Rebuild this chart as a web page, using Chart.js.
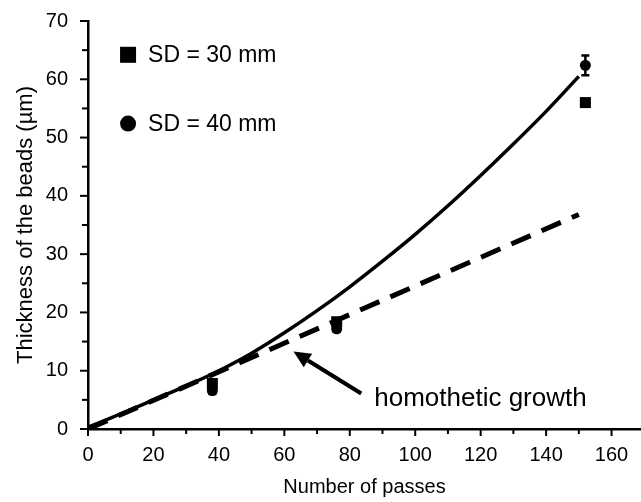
<!DOCTYPE html>
<html lang="en">
<head>
    <meta charset="UTF-8">
    <title>Thickness of the beads vs number of passes</title>
    <script src="https://cdn.jsdelivr.net/npm/chart.js"></script>
    <style>
        html, body { margin: 0; padding: 0; background: #fff; overflow: hidden; }
        canvas { display: block; }
    </style>
</head>
<body>
    <canvas id="beadsChart" width="641" height="502"></canvas>

    <script>
        // fitted growth curve (solid line)
        const fitPasses = [0, 10, 20, 30, 40, 50, 60, 70, 80, 90, 100, 110, 120, 130, 140, 150];
        const fitThickness = [0.3, 2.6, 5.0, 7.4, 10.0, 13.0, 16.5, 20.3, 24.4, 28.8, 33.4, 38.3, 43.5, 48.9, 54.5, 60.5];

        // homothetic growth (dashed straight line)
        const homoPasses = [0, 150];
        const homoThickness = [0, 36.8];

        // measured beads
        const sd30Passes = [38, 76, 152];
        const sd30Thickness = [7.8, 18.4, 56.0];
        const sd40Passes = [38, 76, 152];
        const sd40Thickness = [6.6, 17.2, 62.4];
        const sd40Error = [0.6, 0.5, 1.7];

        const legendLabels = ['SD = 30 mm', 'SD = 40 mm'];
        const annotationText = 'homothetic growth';
        // arrow from text to the dashed line, in data units
        const arrowFrom = [83.5, 6.1];
        const arrowTo = [62.8, 13.3];

        const xTicks = [0, 10, 20, 30, 40, 50, 60, 70, 80, 90, 100, 110, 120, 130, 140, 150, 160];
        const yTicks = [0, 5, 10, 15, 20, 25, 30, 35, 40, 45, 50, 55, 60, 65, 70];

        const FONT = "'Liberation Sans', Arial, sans-serif";

        const toXY = (xs, ys) => xs.map((x, i) => ({ x: x, y: ys[i] }));

        // tick marks, error bars, arrow, legend and annotation
        const extrasPlugin = {
            id: 'extras',
            afterDraw(chart) {
                const ctx = chart.ctx;
                const xs = chart.scales.x;
                const ys = chart.scales.y;
                ctx.save();
                ctx.strokeStyle = '#000';
                ctx.fillStyle = '#000';
                ctx.lineWidth = 2;

                // ticks
                xTicks.forEach(v => {
                    const px = xs.getPixelForValue(v);
                    const len = v % 20 === 0 ? 7 : 5;
                    ctx.beginPath();
                    ctx.moveTo(px, xs.top);
                    ctx.lineTo(px, xs.top + len);
                    ctx.stroke();
                });
                yTicks.forEach(v => {
                    const py = ys.getPixelForValue(v);
                    const len = v % 10 === 0 ? 8 : 6;
                    ctx.beginPath();
                    ctx.moveTo(ys.right, py);
                    ctx.lineTo(ys.right - len, py);
                    ctx.stroke();
                });

                // error bars for SD = 40 mm
                ctx.lineWidth = 2.5;
                sd40Passes.forEach((p, i) => {
                    const px = xs.getPixelForValue(p);
                    const top = ys.getPixelForValue(sd40Thickness[i] + sd40Error[i]);
                    const bot = ys.getPixelForValue(sd40Thickness[i] - sd40Error[i]);
                    ctx.beginPath();
                    ctx.moveTo(px, top);
                    ctx.lineTo(px, bot);
                    ctx.moveTo(px - 4, top);
                    ctx.lineTo(px + 4, top);
                    ctx.moveTo(px - 4, bot);
                    ctx.lineTo(px + 4, bot);
                    ctx.stroke();
                });

                // arrow
                const ax0 = xs.getPixelForValue(arrowFrom[0]);
                const ay0 = ys.getPixelForValue(arrowFrom[1]);
                const ax1 = xs.getPixelForValue(arrowTo[0]);
                const ay1 = ys.getPixelForValue(arrowTo[1]);
                const ang = Math.atan2(ay1 - ay0, ax1 - ax0);
                const headLen = 17, headW = 8;
                const bx = ax1 - headLen * Math.cos(ang);
                const by = ay1 - headLen * Math.sin(ang);
                ctx.lineWidth = 4;
                ctx.beginPath();
                ctx.moveTo(ax0, ay0);
                ctx.lineTo(bx, by);
                ctx.stroke();
                ctx.beginPath();
                ctx.moveTo(ax1, ay1);
                ctx.lineTo(bx + headW * Math.sin(ang), by - headW * Math.cos(ang));
                ctx.lineTo(bx - headW * Math.sin(ang), by + headW * Math.cos(ang));
                ctx.closePath();
                ctx.fill();

                // annotation
                ctx.font = '26px ' + FONT;
                ctx.textAlign = 'left';
                ctx.textBaseline = 'alphabetic';
                ctx.fillText(annotationText, ax0 + 13, ay0 + 13);

                // legend inside the plot, top left
                const lx = xs.getPixelForValue(9.8);
                ctx.font = '23px ' + FONT;
                ctx.textBaseline = 'middle';
                const rows = [ys.getPixelForValue(64.2), ys.getPixelForValue(52.4)];
                ctx.fillRect(lx, rows[0] - 8, 16, 16);
                ctx.beginPath();
                ctx.arc(lx + 8, rows[1], 8, 0, Math.PI * 2);
                ctx.fill();
                legendLabels.forEach((t, i) => ctx.fillText(t, lx + 28, rows[i] + 1));

                ctx.restore();
            }
        };

        new Chart(document.getElementById('beadsChart'), {
            type: 'scatter',
            data: {
                datasets: [
                    {
                        label: 'fit',
                        type: 'line',
                        data: toXY(fitPasses, fitThickness),
                        borderColor: '#000',
                        borderWidth: 3.5,
                        pointRadius: 0,
                        cubicInterpolationMode: 'monotone',
                        fill: false
                    },
                    {
                        label: 'homothetic growth',
                        type: 'line',
                        data: toXY(homoPasses, homoThickness),
                        borderColor: '#000',
                        borderWidth: 5,
                        borderDash: [21, 12],
                        pointRadius: 0,
                        fill: false
                    },
                    {
                        label: legendLabels[0],
                        data: toXY(sd30Passes, sd30Thickness),
                        pointStyle: 'rect',
                        pointRadius: 7.8,
                        backgroundColor: '#000',
                        borderColor: '#000',
                        borderWidth: 0
                    },
                    {
                        label: legendLabels[1],
                        data: toXY(sd40Passes, sd40Thickness),
                        pointStyle: 'circle',
                        pointRadius: 5.5,
                        backgroundColor: '#000',
                        borderColor: '#000',
                        borderWidth: 0
                    }
                ]
            },
            options: {
                responsive: false,
                animation: false,
                layout: { autoPadding: false, padding: { top: 21, right: 0, bottom: 0, left: 0 } },
                plugins: {
                    legend: { display: false },
                    tooltip: { enabled: false }
                },
                scales: {
                    x: {
                        type: 'linear',
                        min: 0,
                        max: 169,
                        afterBuildTicks: s => { s.ticks = [0, 20, 40, 60, 80, 100, 120, 140, 160].map(v => ({ value: v })); },
                        afterFit: s => { s.height = 73; s.paddingLeft = 0; s.paddingRight = 0; },
                        grid: { display: false, drawTicks: false },
                        border: { display: true, color: '#000', width: 2.5 },
                        ticks: {
                            color: '#000',
                            padding: 14,
                            maxRotation: 0,
                            font: { family: FONT, size: 20 }
                        },
                        title: {
                            display: true,
                            text: 'Number of passes',
                            color: '#000',
                            padding: { top: 0, bottom: 3 },
                            font: { family: FONT, size: 20 }
                        }
                    },
                    y: {
                        type: 'linear',
                        min: 0,
                        max: 70,
                        afterBuildTicks: s => { s.ticks = [0, 10, 20, 30, 40, 50, 60, 70].map(v => ({ value: v })); },
                        afterFit: s => { s.width = 88; s.paddingTop = 0; s.paddingBottom = 0; },
                        grid: { display: false, drawTicks: false },
                        border: { display: true, color: '#000', width: 2.5 },
                        ticks: {
                            color: '#000',
                            padding: 20,
                            font: { family: FONT, size: 20 }
                        },
                        title: {
                            display: true,
                            text: 'Thickness of the beads (µm)',
                            color: '#000',
                            padding: { top: 13, bottom: 0 },
                            font: { family: FONT, size: 22 }
                        }
                    }
                }
            },
            plugins: [extrasPlugin]
        });
    </script>
</body>
</html>
